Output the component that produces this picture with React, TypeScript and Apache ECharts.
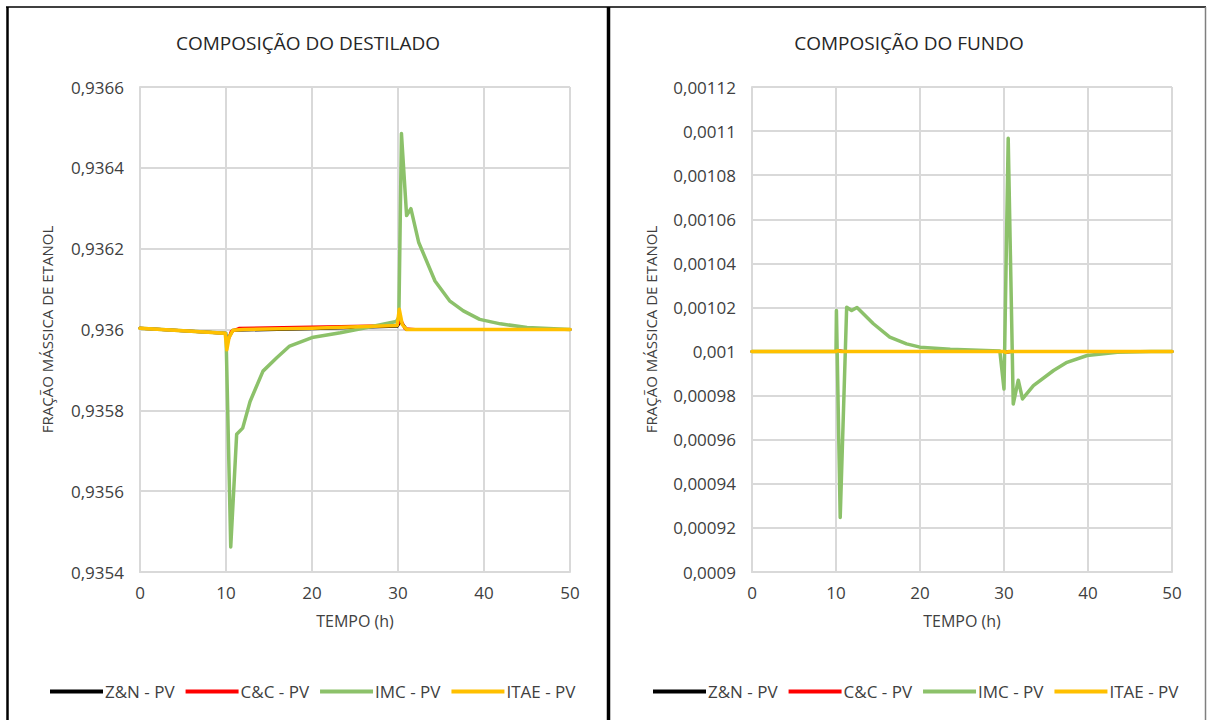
import React, { useEffect, useRef } from "react";
import * as echarts from "echarts";

// ---------- DATA ----------
const seriesNames = ["Z&N - PV", "C&C - PV", "IMC - PV", "ITAE - PV"];
const seriesColors = ["#000000", "#FF0000", "#8CC16A", "#FFC000"];
const xTicks = [0, 10, 20, 30, 40, 50];

// Composição do destilado
const destZN_t = [0, 5, 9.9, 10.2, 10.8, 20, 29.9, 30.3, 31, 50];
const destZN_v = [0.936003, 0.935997, 0.935991, 0.935975, 0.935998, 0.936002, 0.936008, 0.93602, 0.936, 0.936];

const destCC_t = [0, 5, 9.9, 10.2, 10.6, 11.5, 20, 29.9, 30.3, 30.8, 32, 50];
const destCC_v = [0.936003, 0.935997, 0.935991, 0.93597, 0.935995, 0.936003, 0.936006, 0.93601, 0.936025, 0.936002, 0.936, 0.936];

const destIMC_t = [0, 5, 10.0, 10.55, 11.24, 11.94, 12.8, 14.3, 15.9, 17.4, 20, 23.3, 26.4, 29.8, 30.1, 30.4, 31.0, 31.5, 32.4, 34.3, 36, 37.6, 39.5, 41.9, 45, 50];
const destIMC_v = [0.936003, 0.935997, 0.935991, 0.935462, 0.935741, 0.935756, 0.935822, 0.935897, 0.93593, 0.935959, 0.93598, 0.935992, 0.936005, 0.93602, 0.93603, 0.936485, 0.936282, 0.936299, 0.936216, 0.93612, 0.936071, 0.936046, 0.936025, 0.936014, 0.936005, 0.936];

const destITAE_t = [0, 5, 9.9, 10.1, 10.35, 10.8, 12, 20, 29.9, 30.15, 30.5, 31, 50];
const destITAE_v = [0.936003, 0.935997, 0.935991, 0.93595, 0.93598, 0.935998, 0.936, 0.936003, 0.93601, 0.93605, 0.936012, 0.936, 0.936];

// Composição do fundo
const fundoZN_t = [0, 10, 10.3, 11, 30, 30.3, 31, 50];
const fundoZN_v = [0.001, 0.001, 0.0010002, 0.001, 0.001, 0.0009998, 0.001, 0.001];

const fundoCC_t = [0, 10, 10.3, 11, 30, 30.3, 31, 50];
const fundoCC_v = [0.001, 0.001, 0.0010002, 0.001, 0.001, 0.0009998, 0.001, 0.001];

const fundoIMC_t = [0, 10.0, 10.05, 10.5, 11.27, 11.86, 12.5, 14.45, 16.4, 18.4, 20, 23.6, 29.5, 30.0, 30.5, 31.1, 31.7, 32.2, 33.5, 35.9, 37.5, 39.9, 43.5, 47.5, 50];
const fundoIMC_v = [0.001, 0.001, 0.0010186, 0.0009247, 0.0010201, 0.0010186, 0.00102, 0.0010126, 0.0010065, 0.0010035, 0.001002, 0.001001, 0.0010003, 0.000983, 0.0010967, 0.0009762, 0.000987, 0.0009785, 0.0009845, 0.0009914, 0.0009951, 0.0009982, 0.0009997, 0.001, 0.001];

const fundoITAE_t = [0, 10, 10.2, 10.6, 30, 30.2, 30.6, 50];
const fundoITAE_v = [0.001, 0.001, 0.0010004, 0.001, 0.001, 0.0009996, 0.001, 0.001];

const destTicks = { min: 0.9354, max: 0.9366, interval: 0.0002 };
const fundoTicks = { min: 0.0009, max: 0.00112, interval: 0.00002 };

const titles = ["COMPOSIÇÃO DO DESTILADO", "COMPOSIÇÃO DO FUNDO"];
const xName = "TEMPO (h)";
const yName = "FRAÇÃO MÁSSICA DE ETANOL";

// ---------- helpers ----------
const zip = (t: number[], v: number[]) => t.map((x, i) => [x, v[i]]);
const fmt = (v: number) => String(Number(v.toPrecision(6))).replace(".", ",");

const FONT = "Open Sans";

export default function App() {
  const ref = useRef<HTMLDivElement>(null);

  useEffect(() => {
    if (!ref.current) return;
    const chart = echarts.init(ref.current, null, { renderer: "svg" });

    const destData = [zip(destZN_t, destZN_v), zip(destCC_t, destCC_v), zip(destIMC_t, destIMC_v), zip(destITAE_t, destITAE_v)];
    const fundoData = [zip(fundoZN_t, fundoZN_v), zip(fundoCC_t, fundoCC_v), zip(fundoIMC_t, fundoIMC_v), zip(fundoITAE_t, fundoITAE_v)];
    const widths = [3, 3, 3.5, 3.5];

    const mkSeries = (data: number[][][], idx: number) =>
      data.map((d, i) => ({
        name: seriesNames[i],
        type: "line",
        xAxisIndex: idx,
        yAxisIndex: idx,
        data: d,
        symbol: "none",
        smooth: false,
        lineStyle: { color: seriesColors[i], width: widths[i], join: "round", cap: "round" },
        itemStyle: { color: seriesColors[i] },
        z: 2 + i,
      }));

    const gridLine = { show: true, lineStyle: { color: "#D9D9D9", width: 2 } };
    const axisLbl = { color: "#404040", fontSize: 17, fontFamily: FONT };

    const mkX = (idx: number) => ({
      type: "value",
      gridIndex: idx,
      min: xTicks[0],
      max: xTicks[xTicks.length - 1],
      interval: xTicks[1] - xTicks[0],
      name: xName,
      nameLocation: "middle",
      nameGap: 41,
      nameTextStyle: { color: "#404040", fontSize: 16, fontFamily: FONT },
      axisLine: { show: true, lineStyle: { color: "#D9D9D9", width: 2 } },
      axisTick: { show: false },
      splitLine: gridLine,
      axisLabel: { ...axisLbl, margin: 12 },
    });

    const mkY = (idx: number, tk: { min: number; max: number; interval: number }, gap: number) => ({
      type: "value",
      gridIndex: idx,
      min: tk.min,
      max: tk.max,
      interval: tk.interval,
      name: yName,
      nameLocation: "middle",
      nameGap: gap,
      nameTextStyle: { color: "#404040", fontSize: 15, fontFamily: FONT },
      axisLine: { show: true, lineStyle: { color: "#D9D9D9", width: 2 } },
      axisTick: { show: false },
      splitLine: gridLine,
      axisLabel: { ...axisLbl, margin: 16, formatter: (v: number) => fmt(v) },
    });

    const legendCommon = {
      data: seriesNames,
      icon: "rect",
      itemWidth: 53,
      itemHeight: 4,
      itemGap: 11,
      top: 678,
      textStyle: { color: "#404040", fontSize: 17, fontFamily: FONT, padding: [0, 0, 0, -3] },
      selectedMode: false,
    };

    chart.setOption({
      animation: false,
      backgroundColor: "#FFFFFF",
      grid: [
        { left: 140, right: 1209 - 570, top: 87, bottom: 720 - 572, containLabel: false },
        { left: 752, right: 1209 - 1172, top: 87, bottom: 720 - 572, containLabel: false },
      ],
      xAxis: [mkX(0), mkX(1)],
      yAxis: [mkY(0, destTicks, 86), mkY(1, fundoTicks, 94)],
      legend: [
        { ...legendCommon, left: 45 },
        { ...legendCommon, left: 648 },
      ],
      series: [...mkSeries(destData, 0), ...mkSeries(fundoData, 1)],
      graphic: [
        { type: "text", style: { text: titles[0], x: 308, y: 43, textAlign: "center", textVerticalAlign: "middle", fill: "#262626", fontSize: 19, fontFamily: FONT } },
        { type: "text", style: { text: titles[1], x: 909, y: 43, textAlign: "center", textVerticalAlign: "middle", fill: "#262626", fontSize: 19, fontFamily: FONT } },
        { type: "line", shape: { x1: 6, y1: 7, x2: 1206, y2: 7 }, style: { stroke: "#404040", lineWidth: 2 } },
        { type: "line", shape: { x1: 7.5, y1: 7, x2: 7.5, y2: 720 }, style: { stroke: "#000000", lineWidth: 2.5 } },
        { type: "line", shape: { x1: 608.5, y1: 7, x2: 608.5, y2: 720 }, style: { stroke: "#000000", lineWidth: 3.5 } },
        { type: "line", shape: { x1: 1205.5, y1: 7, x2: 1205.5, y2: 720 }, style: { stroke: "#7F7F7F", lineWidth: 1.5 } },
      ],
    });

    return () => chart.dispose();
  }, []);

  return (
    <div
      ref={ref}
      style={{ position: "fixed", left: 0, top: 0, width: 1209, height: 720, background: "#FFFFFF" }}
    />
  );
}
